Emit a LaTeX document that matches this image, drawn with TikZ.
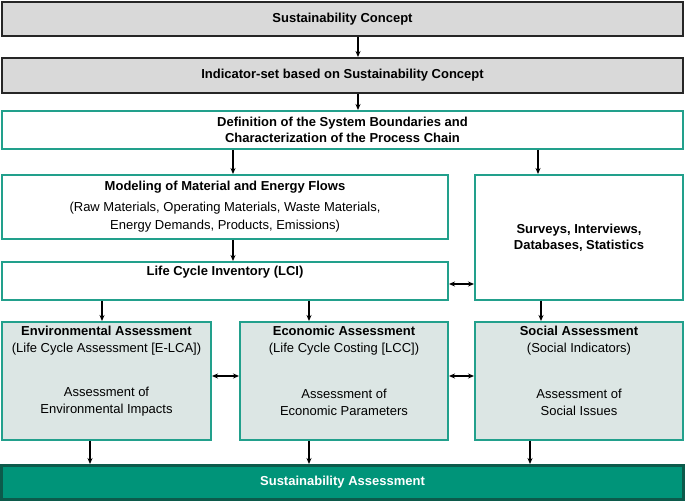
\documentclass[tikz,border=0pt]{standalone}
\usepackage{fontspec}
\setmainfont{Liberation Sans}
\usepackage{xcolor}
\usetikzlibrary{arrows.meta,positioning}

\definecolor{tealline}{HTML}{22A08C}
\definecolor{tealfill}{HTML}{DCE6E4}
\definecolor{greyfill}{HTML}{D9D9D9}
\definecolor{greyline}{HTML}{262626}
\definecolor{finalfill}{HTML}{009479}
\definecolor{finalline}{HTML}{0C5A4B}

\begin{document}
\begin{tikzpicture}[x=1pt,y=-1pt,font=\fontsize{13}{16}\selectfont]
                \useasboundingbox (0,0) rectangle (685,502);
                \begin{scope}[every node/.style={rectangle,inner sep=0pt,align=center}]
                    \node[draw=greyline,line width=2pt,fill=greyfill,minimum width=681pt,minimum height=34pt,font=\fontsize{13}{16}\selectfont\bfseries] (concept) at (342.5,19) {Sustainability Concept};
                    \node[draw=greyline,line width=2pt,fill=greyfill,minimum width=681pt,minimum height=35pt,font=\fontsize{13}{16}\selectfont\bfseries] (indset) at (342.5,75.5) {Indicator-set based on Sustainability Concept};
                    \node[draw=tealline,line width=2pt,fill=white,minimum width=681pt,minimum height=38pt,font=\fontsize{13}{16}\selectfont\bfseries] (sysdef) at (342.5,130) {Definition of the System Boundaries and\\Characterization of the Process Chain};
                    \node[draw=tealline,line width=2pt,fill=white,minimum width=446pt,minimum height=64pt] (modeling) at (225,207) {\textbf{Modeling of Material and Energy Flows}\\[5pt](Raw Materials, Operating Materials, Waste Materials,\\[2pt]Energy Demands, Products, Emissions)};
                    \node[draw=tealline,line width=2pt,fill=white,minimum width=208pt,minimum height=125pt,font=\fontsize{13}{16}\selectfont\bfseries] (surveys) at (579,237.5) {Surveys, Interviews,\\Databases, Statistics};
                    \node[draw=tealline,line width=2pt,fill=white,minimum width=446pt,minimum height=38pt] (lci) at (225,281) {};
                    \node[draw=tealline,line width=2pt,fill=tealfill,minimum width=209pt,minimum height=118pt] (env) at (106.5,381) {};
                    \node[draw=tealline,line width=2pt,fill=tealfill,minimum width=208pt,minimum height=118pt] (econ) at (344,381) {};
                    \node[draw=tealline,line width=2pt,fill=tealfill,minimum width=208pt,minimum height=118pt] (social) at (579,381) {};
                    \node[draw=finalline,line width=3pt,fill=finalfill,minimum width=682pt,minimum height=34pt,text=white,font=\fontsize{13}{16}\selectfont\bfseries] (final) at (342.5,482.5) {Sustainability Assessment};
                    % titles and texts inside the boxes
                    \node[below=5pt of lci.north,font=\fontsize{13}{16}\selectfont\bfseries] (lcititle) {Life Cycle Inventory (LCI)};
                    \node[below=5pt of env.north] (envtitle) {\textbf{Environmental Assessment}\\[1pt](Life Cycle Assessment [E-LCA])};
                    \node[below=5pt of econ.north] (econtitle) {\textbf{Economic Assessment}\\[1pt](Life Cycle Costing [LCC])};
                    \node[below=5pt of social.north] (socialtitle) {\textbf{Social Assessment}\\[1pt](Social Indicators)};
                    \node (envtext) at ([yshift=-21pt]env.center) {Assessment of\\[1pt]Environmental Impacts};
                    \node (econtext) at ([yshift=-21pt]econ.center) {Assessment of\\[1pt]Economic Parameters};
                    \node (socialtext) at ([yshift=-21pt]social.center) {Assessment of\\[1pt]Social Issues};
                \end{scope}
                \begin{scope}[>={Stealth[length=6pt,width=5pt]},
                    every edge/.style={draw=black,line width=1.2pt}]
                    \path [->] (concept.south -| 358,0) edge (indset.north -| 358,0);
                    \path [->] (indset.south -| 358,0) edge (sysdef.north -| 358,0);
                    \path [->] (sysdef.south -| 233,0) edge (modeling.north -| 233,0);
                    \path [->] (sysdef.south -| 538,0) edge (surveys.north -| 538,0);
                    \path [->] (modeling.south -| 233,0) edge (lci.north -| 233,0);
                    \path [<->] (lci.east |- 0,284) edge (surveys.west |- 0,284);
                    \path [->] (lci.south -| 102,0) edge (env.north -| 102,0);
                    \path [->] (lci.south -| 309,0) edge (econ.north -| 309,0);
                    \path [->] (surveys.south -| 541,0) edge (social.north -| 541,0);
                    \path [<->] (env.east |- 0,376) edge (econ.west |- 0,376);
                    \path [<->] (econ.east |- 0,376) edge (social.west |- 0,376);
                    \path [->] (env.south -| 90,0) edge (final.north -| 90,0);
                    \path [->] (econ.south -| 309,0) edge (final.north -| 309,0);
                    \path [->] (social.south -| 530,0) edge (final.north -| 530,0);
                \end{scope}
            \end{tikzpicture}
\end{document}
